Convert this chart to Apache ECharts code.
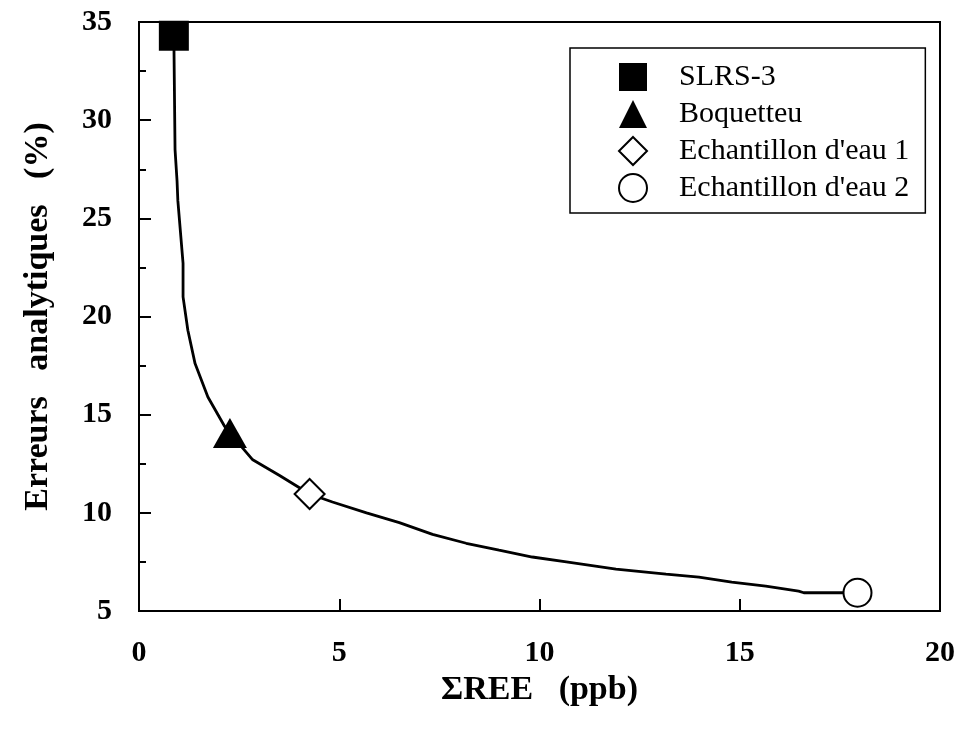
<!DOCTYPE html>
<html>
<head>
<meta charset="utf-8">
<script src="https://cdn.jsdelivr.net/npm/echarts@6/dist/echarts.min.js"></script>
<style>html,body{margin:0;padding:0;background:#fff;}#c{width:958px;height:729px;}</style>
</head>
<body>
<div id="c"></div>
<script>
// Fitted error curve (ΣREE ppb, error %)
const curveX = [0.87, 0.90, 0.95, 0.97, 1.10, 1.10, 1.22, 1.40, 1.72, 2.14, 2.27, 2.84, 3.51, 4.26, 4.83, 5.68, 6.50, 7.33, 8.17, 8.99, 9.82, 10.67, 11.91, 13.16, 13.98, 14.80, 15.65, 16.47, 16.60, 17.94];
const curveY = [34.3, 28.5, 26.9, 25.9, 22.7, 21.0, 19.3, 17.6, 15.9, 14.4, 14.06, 12.7, 11.9, 10.96, 10.55, 10.0, 9.5, 8.9, 8.45, 8.1, 7.75, 7.5, 7.13, 6.88, 6.73, 6.47, 6.27, 6.01, 5.93, 5.93];
// Samples
const sampleNames = ["SLRS-3", "Boquetteu", "Echantillon d'eau 1", "Echantillon d'eau 2"];
const sampleX = [0.87, 2.27, 4.26, 17.94];
const sampleY = [34.3, 14.06, 10.96, 5.93];
const xTicks = [0, 5, 10, 15, 20];
const yTicks = [5, 10, 15, 20, 25, 30, 35];

const font = "'Liberation Serif', 'Times New Roman', serif";
const chart = echarts.init(document.getElementById('c'));
const symbols = ['rect', 'triangle', 'diamond', 'circle'];
const sizes = [30, [34, 30], 30, 28];
const fills = ['#000', '#000', '#fff', '#fff'];

const series = [{
  type: 'line',
  data: curveX.map((x, i) => [x, curveY[i]]),
  showSymbol: false,
  lineStyle: { color: '#000', width: 2.8 },
  silent: true,
  z: 2
}];
sampleNames.forEach((n, i) => {
  series.push({
    name: n,
    type: 'scatter',
    data: [[sampleX[i], sampleY[i]]],
    symbol: symbols[i],
    symbolSize: sizes[i],
    itemStyle: { color: fills[i], borderColor: '#000', borderWidth: i >= 2 ? 2 : 0, opacity: 1 },
    z: 5
  });
});

chart.setOption({
  animation: false,
  backgroundColor: '#fff',
  grid: { left: 139, right: 14, top: 22, bottom: 118, show: true, borderColor: '#000', borderWidth: 2 },
  legend: {
    orient: 'vertical',
    left: 570, top: 48,
    padding: [14, 16, 10, 48],
    itemGap: 7,
    itemWidth: 28, itemHeight: 28,
    borderColor: '#000', borderWidth: 1.5,
    textStyle: { fontFamily: font, fontSize: 30, lineHeight: 28, color: '#000', padding: [0, 0, 0, 27] },
    data: sampleNames.map((n, i) => ({ name: n, icon: symbols[i], itemStyle: { color: fills[i], borderColor: '#000', borderWidth: i >= 2 ? 2 : 0 } }))
  },
  xAxis: {
    type: 'value', min: 0, max: 20, interval: 5,
    name: 'ΣREE   (ppb)', nameLocation: 'middle', nameGap: 58,
    nameTextStyle: { fontFamily: font, fontSize: 34, fontWeight: 'bold', color: '#000' },
    axisLine: { lineStyle: { color: '#000', width: 2 } },
    axisTick: { inside: true, length: 12, lineStyle: { color: '#000', width: 2 } },
    axisLabel: { fontFamily: font, fontSize: 30, fontWeight: 'bold', color: '#000', margin: 27, formatter: v => xTicks.includes(v) ? String(v) : '' },
    splitLine: { show: false }
  },
  yAxis: {
    type: 'value', min: 5, max: 35, interval: 5,
    name: 'Erreurs   analytiques   (%)', nameLocation: 'middle', nameGap: 84,
    nameTextStyle: { fontFamily: font, fontSize: 34, fontWeight: 'bold', color: '#000' },
    axisLine: { lineStyle: { color: '#000', width: 2 } },
    axisTick: { inside: true, length: 12, lineStyle: { color: '#000', width: 2 } },
    minorTick: { show: true, splitNumber: 2, length: 7, lineStyle: { color: '#000', width: 2 } },
    axisLabel: { fontFamily: font, fontSize: 30, fontWeight: 'bold', color: '#000', margin: 27, formatter: v => yTicks.includes(v) ? String(v) : '' },
    splitLine: { show: false }
  },
  series: series
});
</script>
</body>
</html>
